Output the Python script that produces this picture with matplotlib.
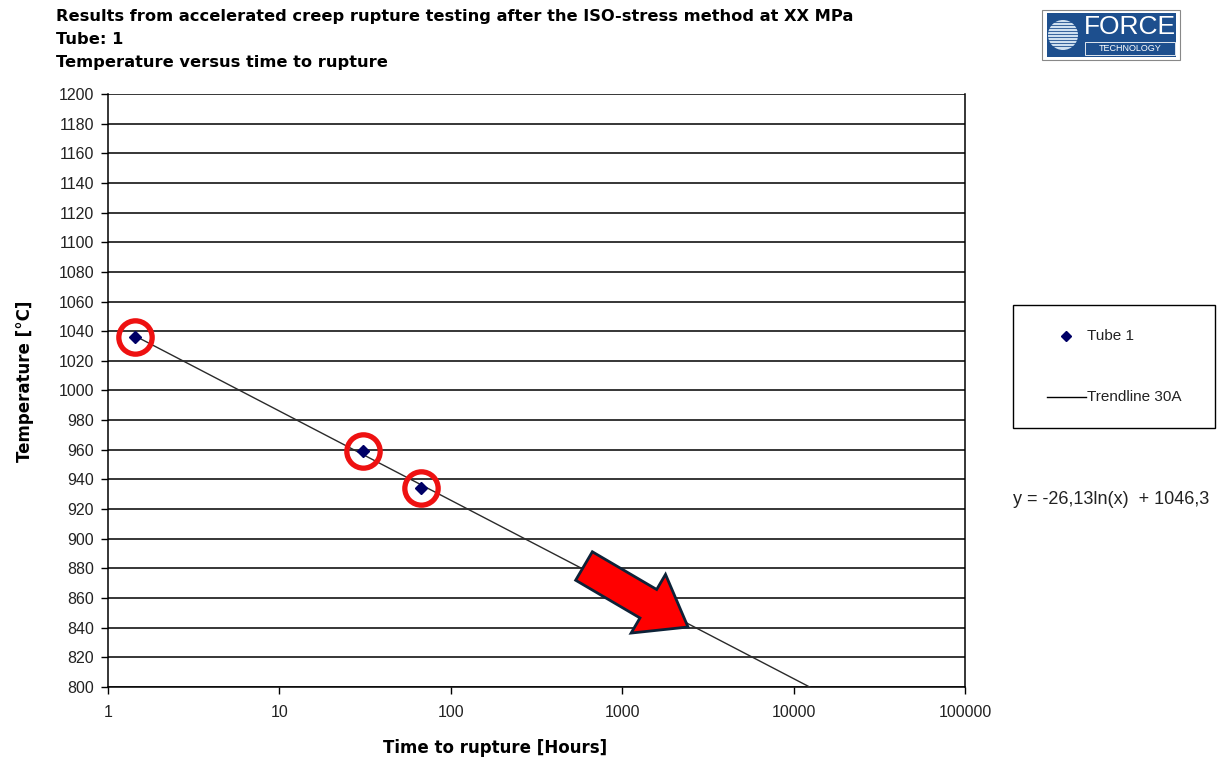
import numpy as np
import matplotlib
matplotlib.use("Agg")
import matplotlib.pyplot as plt
from matplotlib.patches import Rectangle, FancyArrow, Circle
from matplotlib.lines import Line2D

# ---- data ----
hours = [1.44, 30.7, 67.0]
temps = [1036.0, 959.0, 934.0]
trend_a = -26.13
trend_b = 1046.3
trend_x = [1.44, 12400.0]
x_ticks = [1, 10, 100, 1000, 10000, 100000]
x_tick_labels = ["1", "10", "100", "1000", "10000", "100000"]
y_ticks = list(range(800, 1201, 20))

title_lines = [
    "Results from accelerated creep rupture testing after the ISO-stress method at XX MPa",
    "Tube: 1",
    "Temperature versus time to rupture",
]

W, H = 1220, 763
fig = plt.figure(figsize=(W / 100, H / 100), dpi=100)
fig.patch.set_facecolor("white")

L, R, T, B = 108, 965, 94, 687
ax = fig.add_axes([L / W, 1 - B / H, (R - L) / W, (B - T) / H])
ax.set_xscale("log")
ax.set_xlim(1, 100000)
ax.set_ylim(800, 1200)
ax.set_xticks(x_ticks)
ax.set_xticklabels(x_tick_labels)
ax.xaxis.set_minor_locator(matplotlib.ticker.NullLocator())
ax.set_yticks(y_ticks)
ax.set_yticklabels([str(v) for v in y_ticks])
ax.grid(axis="y", color="black", linewidth=1.1)
ax.set_axisbelow(True)
for s in ["left", "right", "bottom"]:
    ax.spines[s].set_color("black")
    ax.spines[s].set_linewidth(1.1)
ax.spines["top"].set_visible(False)
ax.tick_params(axis="both", direction="out", length=5, width=1, colors="black",
               labelsize=11.5)
ax.tick_params(axis="y", pad=5)
ax.tick_params(axis="x", pad=8)
for lab in ax.get_xticklabels() + ax.get_yticklabels():
    lab.set_family("Liberation Sans")
    lab.set_color("#222222")

tx = np.array(trend_x)
ax.plot(tx, trend_a * np.log(tx) + trend_b, color="#2a2a2a", linewidth=1.0, zorder=3)
ax.plot(hours, temps, linestyle="none", marker="D", markersize=6,
        color="#000066", zorder=4, clip_on=False)
ax.plot(hours, temps, linestyle="none", marker="o", markersize=24,
        markerfacecolor="none", markeredgecolor="#ee1111", markeredgewidth=3.8,
        zorder=5, clip_on=False)

# labels
fig.text(495 / W, 1 - 748 / H, "Time to rupture [Hours]", ha="center", va="center",
         fontsize=12, fontweight="bold", family="DejaVu Sans")
fig.text(25 / W, 1 - 381 / H, "Temperature [°C]", ha="center", va="center",
         rotation=90, fontsize=12, fontweight="bold", family="DejaVu Sans")

# overlay in pixel coords
ov = fig.add_axes([0, 0, 1, 1], zorder=10)
ov.set_xlim(0, W)
ov.set_ylim(H, 0)
ov.axis("off")
ov.patch.set_alpha(0)

for line, y in zip(title_lines, [17, 40, 63]):
    ov.text(56, y, line, ha="left", va="center", fontsize=11.7,
            fontweight="bold", family="DejaVu Sans", color="black")

# legend box
ov.add_patch(Rectangle((1013, 305), 202, 123, facecolor="white", edgecolor="black",
                       linewidth=1.0))
ov.add_line(Line2D([1066], [336], marker="D", markersize=5, color="#000066",
                   linestyle="none"))
ov.text(1087, 336, "Tube 1", ha="left", va="center", fontsize=11,
        family="Liberation Sans", color="#222222")
ov.add_line(Line2D([1047, 1086], [397, 397], color="black", linewidth=1.0))
ov.text(1087, 397, "Trendline 30A", ha="left", va="center", fontsize=11,
        family="Liberation Sans", color="#222222")
ov.text(1013, 500, "y = -26,13ln(x)  + 1046,3", ha="left", va="center",
        fontsize=13, family="Liberation Sans", color="#222222")

# red arrow
ov.add_patch(FancyArrow(584, 566, 104, 61, width=33, head_width=68, head_length=46,
                        length_includes_head=True, facecolor="#ff0000",
                        edgecolor="#0d2238", linewidth=2.0))

# logo
ov.add_patch(Rectangle((1042, 10), 138, 50, facecolor="white", edgecolor="#888888",
                       linewidth=0.8))
ov.add_patch(Rectangle((1047, 13), 129, 44, facecolor="#1d4f8e", edgecolor="none"))
ov.add_patch(Circle((1063, 35), 15, facecolor="#cfe0f0", edgecolor="none"))
for yy in range(22, 49, 3):
    ov.add_line(Line2D([1048, 1078], [yy, yy], color="#1d4f8e", linewidth=0.6))
ov.text(1130, 27, "FORCE", ha="center", va="center", fontsize=19, color="white",
        family="Liberation Sans")
ov.add_patch(Rectangle((1085, 42), 90, 13, facecolor="#1d4f8e", edgecolor="white",
                       linewidth=0.6))
ov.text(1130, 48.5, "TECHNOLOGY", ha="center", va="center", fontsize=6.5,
        color="white", family="Liberation Sans")

fig.savefig("out.png", dpi=100, facecolor="white")
